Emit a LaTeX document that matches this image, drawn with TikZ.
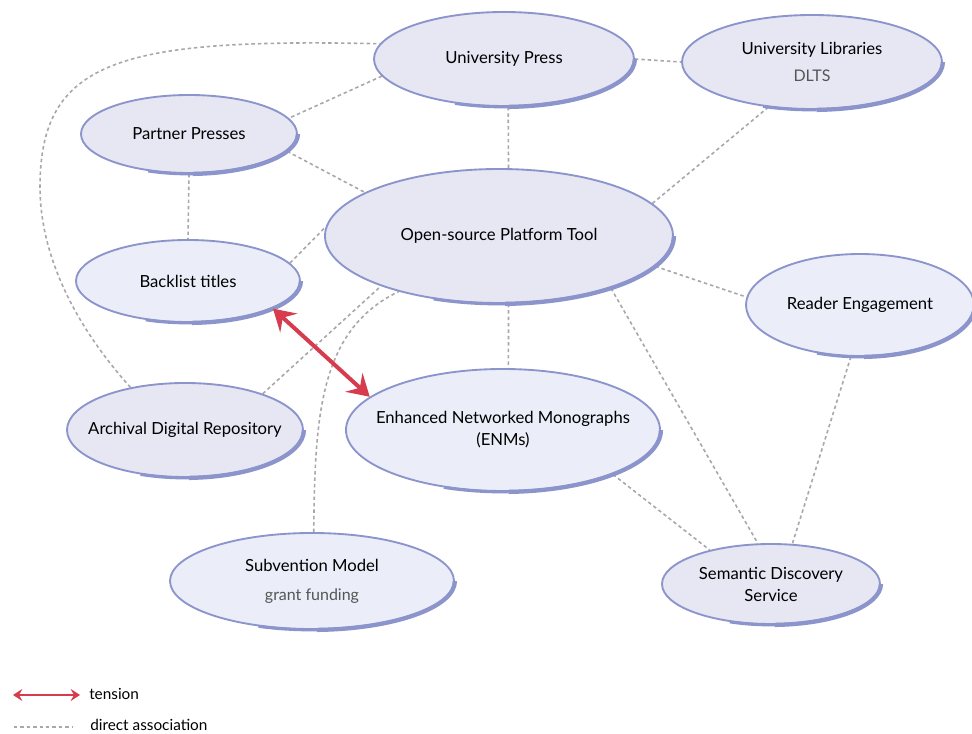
\documentclass[tikz,border=0pt]{standalone}
\usepackage{fontspec}
\setmainfont{Lato}
\usetikzlibrary{shapes.geometric,arrows.meta,calc,backgrounds}
\definecolor{rimblue}{RGB}{140,148,204}
\definecolor{lavfill}{RGB}{231,230,243}
\definecolor{palefill}{RGB}{235,238,248}
\definecolor{linkgray}{RGB}{168,168,172}
\definecolor{tensionred}{RGB}{214,60,78}
\definecolor{subgray}{RGB}{85,85,85}
\newcommand{\subnote}[1]{{\fontsize{12}{14}\selectfont\color{subgray}#1}}
\newcommand{\lbl}[1]{\makebox[0pt]{#1}}
\tikzset{
  bubble/.style={ellipse, draw=rimblue, line width=1.4pt, inner sep=0pt, align=center,
    font=\fontsize{12.5}{16.5}\selectfont},
  radii/.style 2 args={minimum width=#1*1.5pt, minimum height=#2*1.5pt},
  link/.style={draw=linkgray, line width=1.2pt, dash pattern=on 2.6pt off 2.2pt},
  tensionarrow/.style={draw=tensionred, line width=3pt,
    {Stealth[length=16pt,width=19pt,inset=6pt]}-{Stealth[length=16pt,width=19pt,inset=6pt]}},
  legendarrow/.style={draw=tensionred, line width=2.2pt,
    {Stealth[length=7pt,width=9pt,inset=2.5pt]}-{Stealth[length=7pt,width=9pt,inset=2.5pt]}},
  rim/.style={draw=rimblue, line width=3.2pt},
  rimtail/.style={draw=rimblue, line width=2.2pt},
  legendtext/.style={anchor=west, inner sep=0pt, font=\fontsize{11.5}{14}\selectfont}
}
\begin{document}
\begin{tikzpicture}[x=0.75pt, y=-0.75pt]
    \useasboundingbox (0,0) rectangle (972,734);
    \node[bubble, fill=lavfill, radii={130}{47}] (up) at (504,59) {University Press};
    \node[bubble, fill=lavfill, radii={130}{47}] (ul) at (812,62) {University Libraries\\[4pt]\subnote{DLTS}};
    \node[bubble, fill=lavfill, radii={108}{39}] (pp) at (189,134) {Partner Presses};
    \node[bubble, fill=lavfill, radii={174}{67}] (ost) at (499,236) {Open-source Platform Tool};
    \node[bubble, fill=palefill, radii={112}{41}] (bl) at (188,281) {Backlist titles};
    \node[bubble, fill=palefill, radii={114}{51}] (re) at (860,305) {Reader Engagement};
    \node[bubble, fill=lavfill, radii={118}{47}] (adr) at (185,430) {\lbl{Archival Digital Repository}};
    \node[bubble, fill=palefill, radii={157}{61}] (enm) at (503,430) {\lbl{Enhanced Networked Monographs}\\\lbl{(ENMs)}};
    \node[bubble, fill=palefill, radii={142}{48}] (sm) at (312,581) {Subvention Model\\[5pt]\subnote{grant funding}};
    \node[bubble, fill=lavfill, radii={109}{40}] (sds) at (771,584) {Semantic Discovery\\Service};
    \foreach \nd in {up,ul,pp,ost,bl,re,adr,enm,sm,sds} {
        \draw[rim] let \p1=($(\nd.east)-(\nd.center)$), \p2=($(\nd.north)-(\nd.center)$) in
            (\nd.east) arc[start angle=0, end angle=-88, x radius=\x1, y radius=\y2];
        \draw[rimtail] let \p1=($(\nd.east)-(\nd.center)$), \p2=($(\nd.north)-(\nd.center)$) in
            ($(\nd.center)+(-88:\x1 and \y2)$) arc[start angle=-88, end angle=-112, x radius=\x1, y radius=\y2];
    }
    \begin{scope}[on background layer]
        \draw[link] (up.0) -- (ul.180);
        \draw[link] (up.188) -- (pp.9);
        \draw[link] (up.-85) -- (ost.82);
        \draw[link] (ul.226) -- (ost.12);
        \draw[link] (pp.south) -- (bl.north);
        \draw[link] (pp.-10) -- (ost.162);
        \draw[link] (bl.10) -- (ost.177);
        \draw[link] (ost.-11) -- (re.176);
        \draw[link] (ost.-82) -- (enm.85);
        \draw[link] (adr.25) -- (ost.203);
        \draw[link] (sm.88) .. controls (315,420) and (318,330) .. (ost.209);
        \draw[link] (ost.-25) -- (sds.108);
        \draw[link] (enm.-22) -- (sds.151);
        \draw[link] (re.-100) -- (sds.62);
        \draw[link] (adr.142) .. controls (70,320) and (40,250) .. (40,187)
            .. controls (40,60) and (120,38) .. (up.173);
    \end{scope}
    \draw[tensionarrow] (bl.-18) -- (enm.166);
    \coordinate (tenL) at (13,695);
    \coordinate (tenR) at (80,695);
    \draw[legendarrow] (tenL) -- (tenR);
    \node[legendtext] (tenlab) at (89,694) {tension};
    \coordinate (assL) at (14,727);
    \coordinate (assR) at (72,727);
    \draw[link] (assL) -- (assR);
    \node[legendtext] (asslab) at (90,725) {direct association};
\end{tikzpicture}
\end{document}
